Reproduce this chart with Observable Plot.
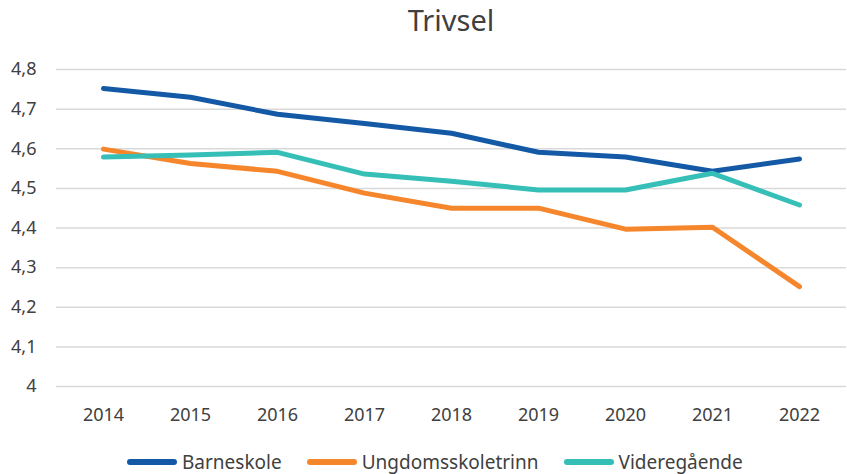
<!DOCTYPE html>
<html><head><meta charset="utf-8">
<script src="https://cdn.jsdelivr.net/npm/d3@7"></script>
<script src="https://cdn.jsdelivr.net/npm/@observablehq/plot@0.6"></script>
<style>
body{margin:0;background:#fff;font-family:"Noto Sans",sans-serif;position:relative;width:847px;height:474px;overflow:hidden;}
#title{position:absolute;left:56px;width:790px;top:0px;height:40px;text-align:center;font-size:29px;line-height:40px;color:#404040;}
#chart{position:absolute;left:0;top:40px;}
#legend{position:absolute;left:127px;top:448px;height:28px;display:flex;align-items:center;font-size:19px;line-height:26px;color:#404040;white-space:nowrap;}
#legend span{display:flex;align-items:center;margin-right:25px;}
#legend i{display:inline-block;width:50px;height:5.5px;border-radius:3px;margin-right:5px;}
</style></head><body>
<div id="title">Trivsel</div>
<div id="chart"></div>
<div id="legend"></div>
<script>
const years = ["2014","2015","2016","2017","2018","2019","2020","2021","2022"];
const seriesNames = ["Barneskole","Ungdomsskoletrinn","Videregående"];
const barneskole = [4.752,4.730,4.687,4.664,4.639,4.591,4.579,4.543,4.574];
const ungdomsskoletrinn = [4.599,4.563,4.543,4.488,4.450,4.450,4.397,4.402,4.252];
const videregaende = [4.579,4.584,4.591,4.536,4.518,4.496,4.496,4.538,4.458];
const colors = ["#1459a6","#f5862b","#35bfb6"];
const yTicks = [4,4.1,4.2,4.3,4.4,4.5,4.6,4.7,4.8];

const vals = [barneskole, ungdomsskoletrinn, videregaende];
const data = [];
seriesNames.forEach((s,si)=>years.forEach((y,i)=>data.push({serie:s, year:y, value:vals[si][i]})));

const chart = Plot.plot({
  width: 847, height: 390,
  marginLeft: 56, marginRight: 1, marginTop: 29, marginBottom: 44,
  style: {fontFamily: "Noto Sans, sans-serif", fontSize: "18px", color: "#404040"},
  x: {type: "point", domain: years, padding: 0.5, label: null},
  y: {domain: [4, 4.8], ticks: yTicks, label: null},
  color: {domain: seriesNames, range: colors},
  marks: [
    Plot.ruleY(yTicks, {stroke: "#d9d9d9", strokeWidth: 1.5}),
    Plot.axisY({ticks: yTicks, tickSize: 0, tickPadding: 20, tickFormat: d => String(d).replace(".", ","), label: null, fill: "#404040", fontSize: 18}),
    Plot.axisX({tickSize: 0, tickPadding: 22, label: null, fill: "#404040", fontSize: 18}),
    Plot.line(data, {x: "year", y: "value", z: "serie", stroke: "serie", strokeWidth: 5, strokeLinecap: "round", strokeLinejoin: "round"})
  ]
});
document.getElementById("chart").appendChild(chart);

const lg = document.getElementById("legend");
seriesNames.forEach((s,i)=>{
  const sp = document.createElement("span");
  sp.innerHTML = `<i style="background:${colors[i]}"></i>${s}`;
  lg.appendChild(sp);
});
</script>
</body></html>
